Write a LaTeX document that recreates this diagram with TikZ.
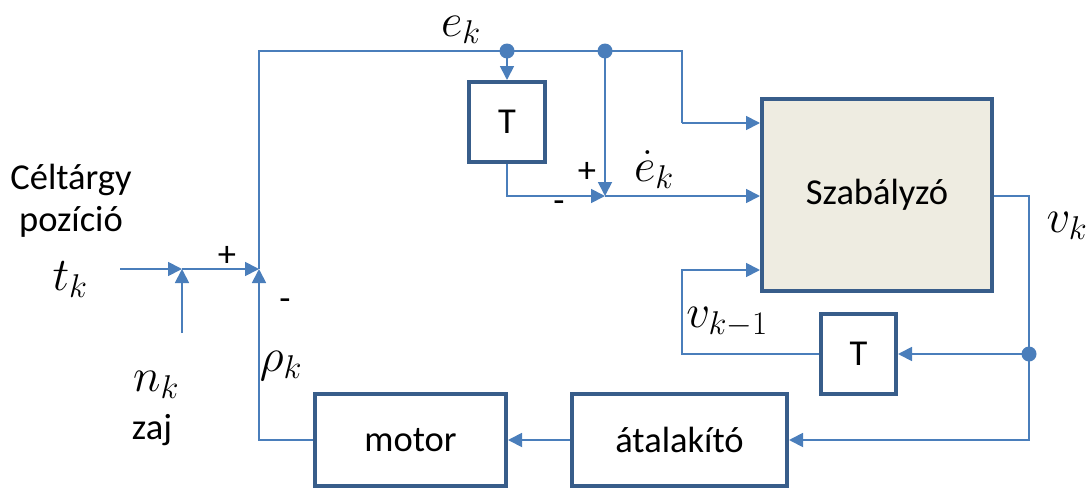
\RequirePackage{fix-cm}
\documentclass[tikz,border=0pt]{standalone}
\usepackage[no-math]{fontspec}
\setmainfont{Carlito}
\usetikzlibrary{arrows.meta}
\definecolor{linec}{HTML}{4A7EBB}
\definecolor{boxc}{HTML}{385D8A}
\definecolor{fillc}{HTML}{EEECE1}
\begin{document}
\begin{tikzpicture}[x=1pt,y=-1pt,
  conn/.style={draw=linec,line width=1.8pt},
  arr/.style={conn,-{Triangle[length=14pt,width=14pt]}},
  blk/.style={draw=boxc,line width=4pt,fill=white,inner sep=0pt,font=\fontsize{36.5}{40}\selectfont},
  lbl/.style={inner sep=0pt,font=\fontsize{36.5}{40}\selectfont},
  mlbl/.style={inner sep=0pt,font=\fontsize{47}{50}\selectfont},
  dot/.style={fill=linec}]
\useasboundingbox (0,0) rectangle (1092,490);
% blocks
\node[blk,minimum width=76pt,minimum height=80pt] (T1) at (507,122) {T};
\node[blk,fill=fillc,minimum width=230pt,minimum height=192pt] (szab) at (877,195) {Szabályzó};
\node[blk,minimum width=75pt,minimum height=80pt] (T2) at (858.5,354) {T};
\node[blk,minimum width=191pt,minimum height=92pt] (motor) at (410.5,440) {motor};
\node[blk,minimum width=215pt,minimum height=92pt] (atal) at (679.5,440) {átalakító};
% coordinates
\coordinate (tin) at (120,269);
\coordinate (nin) at (182,333);
\coordinate (j1) at (182,269);
\coordinate (j2) at (259,269);
\coordinate (d1) at (507,51);
\coordinate (d2) at (605,51);
\coordinate (c2) at (682,51);
\coordinate (c2b) at (682,123);
\coordinate (j3) at (605,196);
\coordinate (d3) at (1029,354);
\coordinate (c3) at (682,270);
% connectors
\draw[arr] (tin) -- (j1);
\draw[arr] (nin) -- (j1);
\draw[arr] (j1) -- (j2);
\draw[arr] (motor.west) -| (j2);
\draw[conn] (j2) |- (d1) -- (d2) -- (c2) -- (c2b);
\draw[arr] (c2b) -- (szab.west |- c2b);
\draw[arr] (d1) -- (T1.north);
\draw[arr] (T1.south) |- (j3);
\draw[arr] (d2) -- (j3);
\draw[arr] (j3) -- (szab.west |- j3);
\draw[arr] (szab.east |- j3) -| (d3) |- (atal.east);
\draw[arr] (d3) -- (T2.east);
\draw[arr] (T2.west) -| (c3) -- (szab.west |- c3);
\draw[arr] (atal.west) -- (motor.east);
\fill[dot] (d1) circle (7.5);
\fill[dot] (d2) circle (7.5);
\fill[dot] (d3) circle (7.5);
% labels
\node[mlbl] (lek) at (461,30) {$e_k$};
\node[mlbl] (ledot) at (654,170) {$\dot{e}_k$};
\node[lbl] (lp1) at (587,172) {+};
\node[lbl] (lm1) at (559,207) {-};
\node[mlbl] (lvk) at (1067,226) {$v_k$};
\node[mlbl] (lvk1) at (727,322) {$v_{k-1}$};
\node[lbl] (lcel) at (71,180) {Céltárgy};
\node[lbl] (lpoz) at (71,222) {pozíció};
\node[mlbl] (ltk) at (70,280) {$t_k$};
\node[mlbl] (lnk) at (156,385) {$n_k$};
\node[lbl] (lzaj) at (152,430) {zaj};
\node[mlbl] (lrho) at (281,366) {$\rho_k$};
\node[lbl] (lp2) at (227,256) {+};
\node[lbl] (lm2) at (285,305) {-};
\end{tikzpicture}
\end{document}
